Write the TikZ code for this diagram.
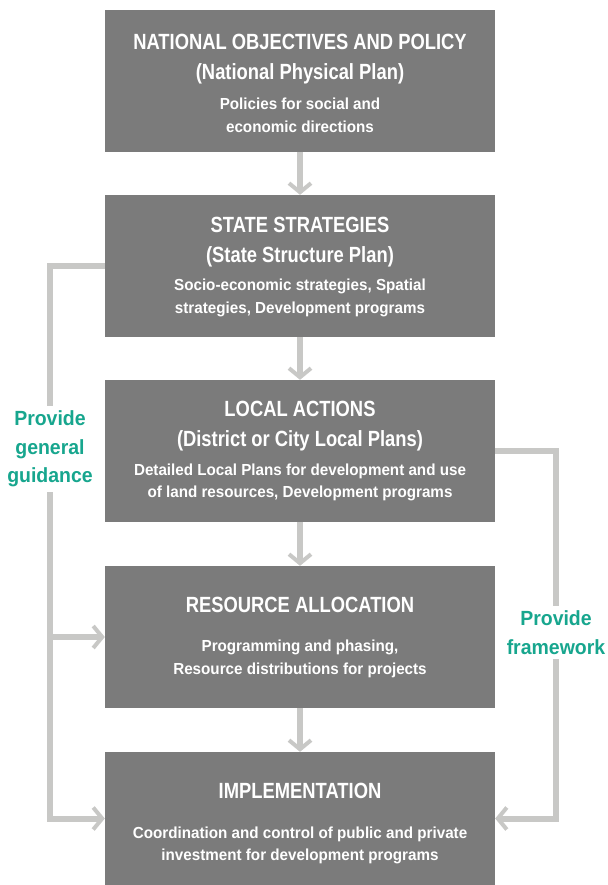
\documentclass[tikz,border=0pt]{standalone}
\usepackage{fontspec}
\setmainfont{Liberation Sans}[FakeStretch=0.95]
\newfontfamily\headfont{Liberation Sans}[FakeStretch=0.835]
\usetikzlibrary{arrows.meta}
\definecolor{boxgray}{HTML}{7B7B7B}
\definecolor{linegray}{HTML}{C8C8C6}
\definecolor{guidegreen}{HTML}{17A68E}
\tikzstyle{plan}=[rectangle, fill=boxgray, minimum width=390pt, minimum height=142pt, inner sep=0pt]
\tikzstyle{head}=[text=white, font=\headfont\bfseries\fontsize{22}{30}\selectfont, align=center, inner sep=0pt]
\tikzstyle{body}=[text=white, font=\bfseries\fontsize{16}{22.5}\selectfont, align=center, inner sep=0pt]
\tikzstyle{note}=[text=guidegreen, font=\bfseries\fontsize{20.5}{28.5}\selectfont, align=center, fill=white, inner sep=5pt]
\tikzstyle{link}=[draw=linegray, line width=6pt]
\tikzstyle{flow}=[link, -{Straight Barb[length=9pt,width=22pt,line width=4pt]}]

\begin{document}
\begin{tikzpicture}[x=1pt,y=-1pt]
  \useasboundingbox (0,0) rectangle (607,885);
  % the five planning levels
  \node[plan] (b1) at (300,81) {};
  \node[plan] (b2) at (300,266) {};
  \node[plan] (b3) at (300,451) {};
  \node[plan] (b4) at (300,637) {};
  \node[plan, minimum height=133pt] (b5) at (300,818.5) {};

  \node[head] (h1) at (300,59.5) {NATIONAL OBJECTIVES AND POLICY\\(National Physical Plan)};
  \node[body] (t1) at (300,115.5) {Policies for social and\\economic directions};
  \node[head] (h2) at (300,242.5) {STATE STRATEGIES\\(State Structure Plan)};
  \node[body] (t2) at (300,298) {Socio-economic strategies, Spatial\\strategies, Development programs};
  \node[head] (h3) at (300,426.5) {LOCAL ACTIONS\\(District or City Local Plans)};
  \node[body] (t3) at (300,482.5) {Detailed Local Plans for development and use\\of land resources, Development programs};
  \node[head] (h4) at (300,604.5) {RESOURCE ALLOCATION};
  \node[body] (t4) at (300,659) {Programming and phasing,\\Resource distributions for projects};
  \node[head] (h5) at (300,790.5) {IMPLEMENTATION};
  \node[body] (t5) at (300,845.5) {Coordination and control of public and private\\investment for development programs};

  % top-down flow
  \draw[flow] (b1) -- (b2);
  \draw[flow] (b2) -- (b3);
  \draw[flow] (b3) -- (b4);
  \draw[flow] (b4) -- (b5);

  % general guidance (left)
  \coordinate (gl) at ([xshift=-55pt]b2.west);
  \draw[flow] (b2.west) -- (gl) |- (b5.west);
  \draw[flow] (gl) |- (b4.west);
  \node[note] (guide) at (50,449) {Provide\\general\\guidance};

  % framework (right)
  \coordinate (fr) at ([xshift=61pt]b3.east);
  \draw[flow] (b3.east) -- (fr) |- (b5.east);
  \node[note] (frame) at (556,632.5) {Provide\\framework};
\end{tikzpicture}
\end{document}
